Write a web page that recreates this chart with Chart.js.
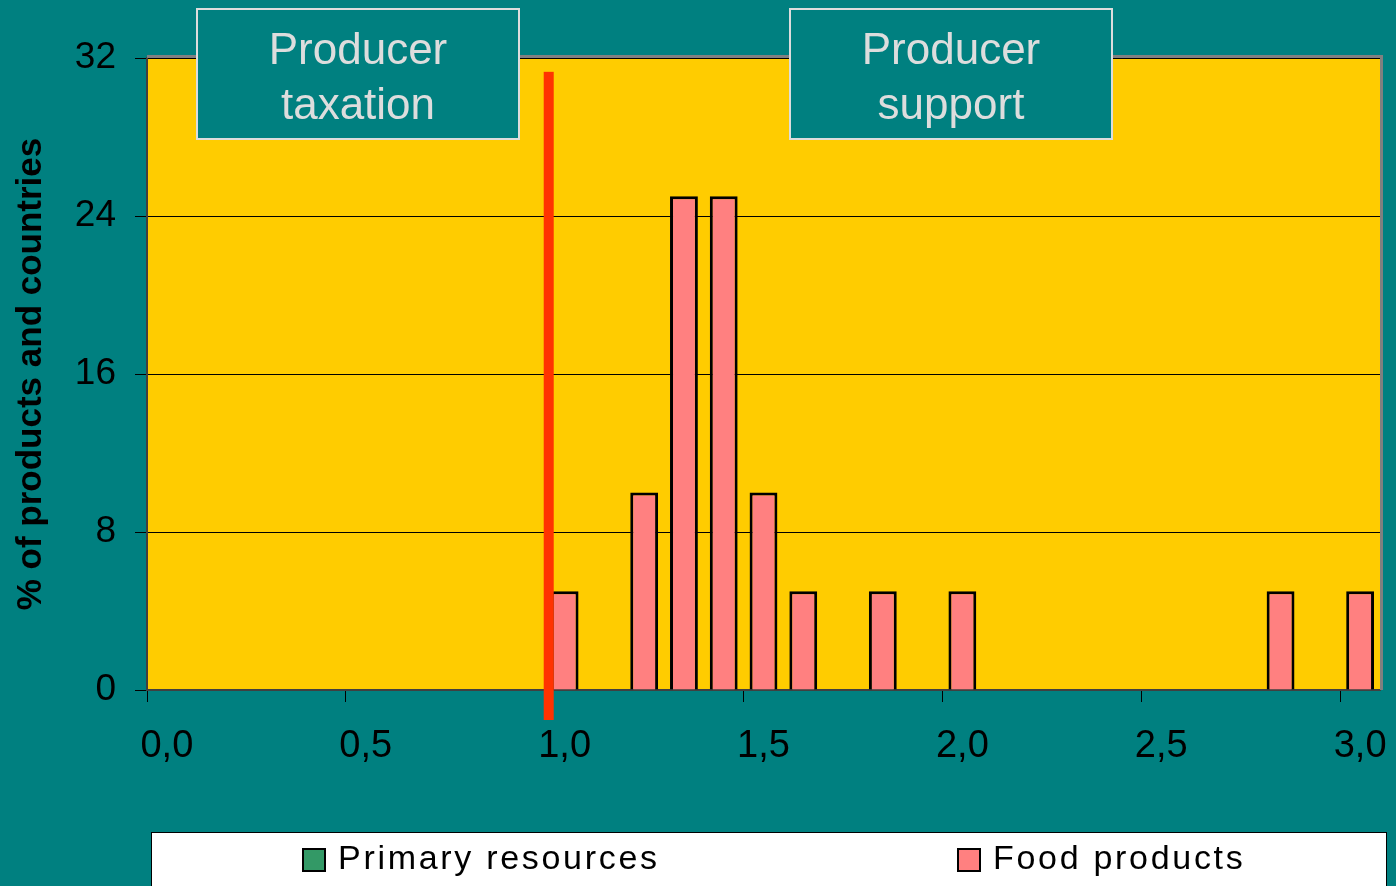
<!DOCTYPE html>
<html><head><meta charset="utf-8">
<script src="https://cdn.jsdelivr.net/npm/chart.js@4.4.1/dist/chart.umd.min.js"></script>
<style>html,body{margin:0;padding:0;background:#008080;overflow:hidden}canvas{display:block}</style>
</head><body>
<canvas id="c" width="1396" height="886"></canvas>
<script>
// ---- data ----
const categories = ['0,0','0,1','0,2','0,3','0,4','0,5','0,6','0,7','0,8','0,9',
                    '1,0','1,1','1,2','1,3','1,4','1,5','1,6','1,7','1,8','1,9',
                    '2,0','2,1','2,2','2,3','2,4','2,5','2,6','2,7','2,8','2,9','3,0'];
const primaryResources = [0,0,0,0,0,0,0,0,0,0, 0,0,0,0,0,0,0,0,0,0, 0,0,0,0,0,0,0,0,0,0, 0];
const foodProducts     = [0,0,0,0,0,0,0,0,0,0, 5,0,10,25,25,10,5,0,5,0, 5,0,0,0,0,0,0,0,5,0, 5];
const seriesNames = ['Primary resources', 'Food products'];
const seriesColors = ['#339966', '#FF8080'];
const yTickValues = [0, 8, 16, 24, 32];
const yAxisTitle = '% of products and countries';
const annotationTexts = [['Producer', 'taxation'], ['Producer', 'support']];
const thresholdIndex = 9.6; // position of the 1,0 threshold line on the category axis

const FONT = "'Liberation Sans', Arial, sans-serif";

const plotBackground = {
  id: 'plotBackground',
  beforeDraw(chart) {
    const {ctx, chartArea: a} = chart;
    ctx.save();
    ctx.fillStyle = '#FFCC00';
    ctx.fillRect(a.left, a.top, a.right - a.left, a.bottom - a.top);
    ctx.restore();
  },
  afterDatasetsDraw(chart) {
    const {ctx, chartArea: a, scales} = chart;
    ctx.save();
    ctx.fillStyle = '#808080';
    ctx.fillRect(a.left, a.top - 3, a.right - a.left + 3, 3);
    ctx.fillRect(a.right, a.top - 3, 3, a.bottom - a.top + 3);
    // threshold line
    const x = scales.x.getPixelForValue(thresholdIndex);
    const yTop = scales.y.getPixelForValue(31.3);
    const yBot = scales.y.getPixelForValue(0) + 30;
    ctx.fillStyle = '#FF3300';
    ctx.fillRect(x - 5, yTop, 10, yBot - yTop);
    ctx.restore();
  },
  afterDraw(chart) {
    const {ctx} = chart;
    ctx.save();
    // annotation boxes
    const boxes = [{x: 197, y: 9, w: 322, h: 130}, {x: 790, y: 9, w: 322, h: 130}];
    boxes.forEach((b, i) => {
      ctx.fillStyle = '#008080';
      ctx.fillRect(b.x, b.y, b.w, b.h);
      ctx.strokeStyle = '#DDDDDD';
      ctx.lineWidth = 2;
      ctx.strokeRect(b.x, b.y, b.w, b.h);
      ctx.fillStyle = '#DDDDDD';
      ctx.font = '44px ' + FONT;
      ctx.textAlign = 'center';
      ctx.textBaseline = 'alphabetic';
      ctx.fillText(annotationTexts[i][0], b.x + b.w / 2, 64);
      ctx.fillText(annotationTexts[i][1], b.x + b.w / 2, 119);
    });
    // legend
    ctx.fillStyle = '#FFFFFF';
    ctx.fillRect(151, 832, 1236, 60);
    ctx.strokeStyle = '#000000';
    ctx.lineWidth = 1;
    ctx.strokeRect(151.5, 832.5, 1235, 60);
    const items = [{x: 303}, {x: 958}];
    items.forEach((it, i) => {
      ctx.fillStyle = seriesColors[i];
      ctx.fillRect(it.x, 849, 22, 22);
      ctx.strokeStyle = '#000';
      ctx.lineWidth = 2;
      ctx.strokeRect(it.x, 849, 22, 22);
      ctx.fillStyle = '#000';
      ctx.font = '34px ' + FONT;
      ctx.textAlign = 'left';
      ctx.textBaseline = 'alphabetic';
      try { ctx.letterSpacing = '2.7px'; } catch (e) {}
      ctx.fillText(seriesNames[i], it.x + 35, 869);
      try { ctx.letterSpacing = '0px'; } catch (e) {}
    });
    ctx.restore();
  }
};

new Chart(document.getElementById('c'), {
  type: 'bar',
  data: {
    labels: categories,
    datasets: [
      {label: seriesNames[0], data: primaryResources, backgroundColor: seriesColors[0],
       borderColor: '#000', borderWidth: 3, grouped: false, barPercentage: 0.7, categoryPercentage: 1},
      {label: seriesNames[1], data: foodProducts, backgroundColor: seriesColors[1],
       borderColor: '#000', borderWidth: 3, grouped: false, barPercentage: 0.7, categoryPercentage: 1}
    ]
  },
  options: {
    responsive: false,
    devicePixelRatio: 1,
    animation: false,
    layout: {padding: {left: 0, right: 16, top: 58, bottom: 96}},
    plugins: {legend: {display: false}, tooltip: {enabled: false}},
    scales: {
      x: {
        offset: true,
        afterFit(s) { s.height = 100; s.paddingLeft = 0; s.paddingRight = 0; },
        grid: {offset: true, drawOnChartArea: false, drawTicks: true, tickLength: 12,
               tickColor: (c) => (c.index % 5 === 0 ? '#000' : 'rgba(0,0,0,0)'), lineWidth: 1},
        border: {display: true, color: '#404040', width: 2},
        ticks: {autoSkip: false, maxRotation: 0, minRotation: 0, padding: 22, color: '#000',
                font: {family: FONT, size: 38},
                callback: (v, i) => (i % 5 === 0 ? categories[i] : '')}
      },
      y: {
        min: 0, max: 32,
        afterFit(s) { s.width = 147; },
        afterBuildTicks(s) { s.ticks = yTickValues.map(v => ({value: v})); },
        grid: {color: '#000', lineWidth: 1, tickColor: '#000', tickLength: 12},
        border: {display: true, color: '#404040', width: 2},
        ticks: {padding: 19, color: '#000', font: {family: FONT, size: 37}},
        title: {display: true, text: yAxisTitle, color: '#000',
                font: {family: FONT, size: 35, weight: 'bold'}, padding: {top: 10, bottom: 0}}
      }
    }
  },
  plugins: [plotBackground]
});
</script>
</body></html>
